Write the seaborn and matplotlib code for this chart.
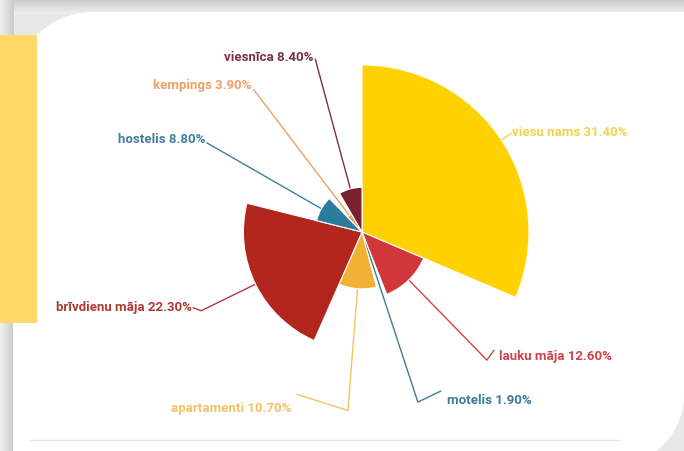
import numpy as np
import matplotlib
matplotlib.use("Agg")
import matplotlib.pyplot as plt
import seaborn as sns
from matplotlib.patches import Polygon, Rectangle
from matplotlib.colors import LinearSegmentedColormap

# ---------------- data ----------------
categories = ["viesu nams", "lauku māja", "motelis", "apartamenti",
              "brīvdienu māja", "hostelis", "kempings", "viesnīca"]
values = [31.4, 12.6, 1.9, 10.7, 22.3, 8.8, 3.9, 8.4]
value_labels = ["31.40%", "12.60%", "1.90%", "10.70%", "22.30%", "8.80%", "3.90%", "8.40%"]

# ---------------- styles ----------------
slice_colors = ["#FFD100", "#D0363A", "#2E7C99", "#F2B134",
                "#B3261E", "#2A7C9C", "#F39C5A", "#7B1F2E"]
label_colors = ["#F5D24E", "#D0434A", "#3C7D97", "#F4C263",
                "#B03A36", "#3F7F9F", "#F0A066", "#7E3040"]
# leader second segment (px, y down) and text offset from its end (px, y down)
seg_offsets = [(0, 0), (7, -10), (23, -11), (-51, -16), (-8, -3), (0, 0), (0, 0), (0, 0)]
text_offsets = [(1, -1), (5, 6), (6, 9), (-5, 14), (-1, 0), (-1, -3), (-2, -4), (-2, -2)]

sns.set_theme(style="white")
plt.rcParams["font.family"] = ["Roboto", "DejaVu Sans"]
palette = sns.color_palette(slice_colors)

W, H = 684, 451
fig = plt.figure(figsize=(W / 100, H / 100), dpi=100)
fig.patch.set_facecolor("#e8e8e8")

# background decorations (image pixel coordinates, y down)
bg = fig.add_axes([0, 0, 1, 1], zorder=0)
bg.set_axis_off()
top_cmap = LinearSegmentedColormap.from_list("t", ["#cdcdcd", "#eeeeee"])
bg.imshow(np.linspace(0, 1, 40).reshape(-1, 1), cmap=top_cmap,
          extent=[0, W, 14, 0], aspect="auto", zorder=0)
left_cmap = LinearSegmentedColormap.from_list("l", ["#f0f0f0", "#cbcbcb"])
bg.imshow(np.linspace(0, 1, 40).reshape(1, -1), cmap=left_cmap,
          extent=[0, 14, H, 0], aspect="auto", zorder=0)

# card outline: rounded top-left and bottom-right corners
def arc(cxx, cyy, rr, a0, a1, n=40):
    a = np.radians(np.linspace(a0, a1, n))
    return np.column_stack([cxx + rr * np.cos(a), cyy + rr * np.sin(a)])

pts = [(13, H + 5), (13, 92)]
pts += list(arc(93, 92, 80, 180, 270))
pts += [(W + 5, 12), (W + 5, 395), (W, 395)]
pts += list(arc(614, 395, 70, 0, 90))
pts += [(614, H + 5)]
bg.add_patch(Polygon(pts, closed=True, facecolor="white", edgecolor="none", zorder=1))
bg.plot([30, 620], [440, 440], color="#e6e6e6", lw=1.0, zorder=2)
bg.add_patch(Rectangle((0, 35), 37, 288, facecolor="#FFD966",
                       edgecolor="none", zorder=3))
bg.set_xlim(0, W)
bg.set_ylim(H, 0)

# polar area chart
cx, cy, R = 362, 232, 167
ax = fig.add_axes([(cx - R) / W, (H - cy - R) / H, 2 * R / W, 2 * R / H],
                  projection="polar", zorder=1)
ax.set_theta_zero_location("N")
ax.set_theta_direction(-1)
vals = np.array(values)
widths = vals / vals.sum() * 2 * np.pi
starts = np.concatenate([[0], np.cumsum(widths)[:-1]])
mids = starts + widths / 2
ax.bar(mids, vals, width=widths, color=palette, edgecolor="white",
       linewidth=0.8, align="center")
ax.set_ylim(0, vals.max())
ax.set_axis_off()

# leader lines and labels
def to_img(theta, r):
    px, py = ax.transData.transform((theta, r))
    return px, H - py

r_elbow = vals.max() * 179 / 167
for i, cat in enumerate(categories):
    x0, y0 = to_img(mids[i], vals[i])
    x1, y1 = to_img(mids[i], r_elbow)
    x2, y2 = x1 + seg_offsets[i][0], y1 + seg_offsets[i][1]
    bg.plot([x0, x1, x2], [y0, y1, y2], color=label_colors[i], lw=1.0,
            zorder=4, solid_capstyle="round")
    right_side = np.sin(mids[i]) > 0
    tx, ty = x2 + text_offsets[i][0], y2 + text_offsets[i][1]
    bg.text(tx, ty, f"{cat} {value_labels[i]}", color=label_colors[i],
            fontsize=9.5, fontweight="bold", ha="left" if right_side else "right",
            va="center", zorder=5)

fig.savefig("out.png", dpi=100, facecolor=fig.get_facecolor())
